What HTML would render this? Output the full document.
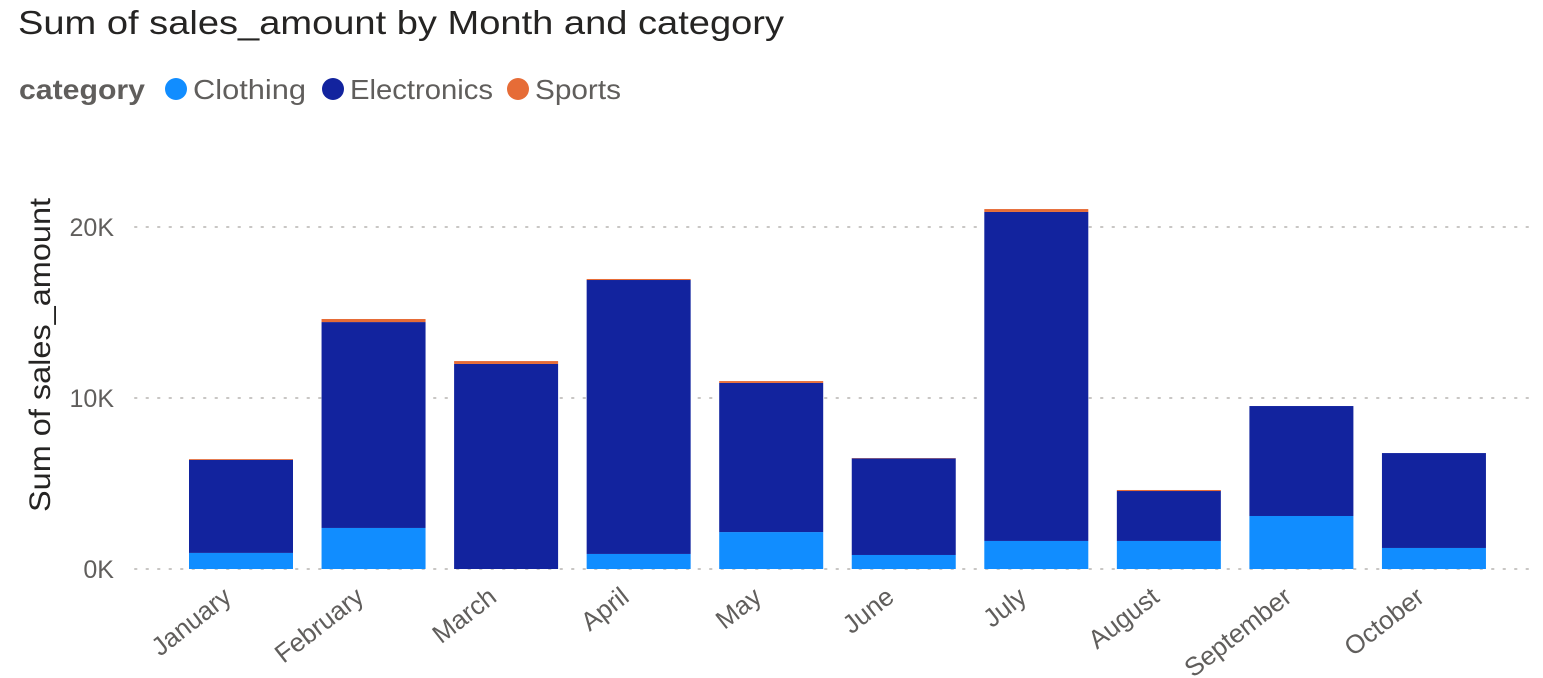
<!DOCTYPE html>
<html><head><meta charset="utf-8"><style>
body{margin:0;background:#fff;}
svg{display:block;font-family:"Liberation Sans",sans-serif;}
</style></head><body>
<svg id="chart" width="1543" height="678">
<text x="18" y="34" font-size="33" fill="#252423" textLength="766" lengthAdjust="spacingAndGlyphs">Sum of sales_amount by Month and category</text>
<g>
<text x="19" y="99" font-size="28" font-weight="bold" fill="#605e5c" textLength="126" lengthAdjust="spacingAndGlyphs">category</text>
<g><circle cx="176" cy="89" r="11" fill="#118dff"/><text x="193" y="99" font-size="28" fill="#605e5c" textLength="113" lengthAdjust="spacingAndGlyphs">Clothing</text></g>
<g><circle cx="333" cy="89" r="11" fill="#12239e"/><text x="350" y="99" font-size="28" fill="#605e5c" textLength="143" lengthAdjust="spacingAndGlyphs">Electronics</text></g>
<g><circle cx="518" cy="89" r="11" fill="#e66c37"/><text x="535" y="99" font-size="28" fill="#605e5c" textLength="86" lengthAdjust="spacingAndGlyphs">Sports</text></g>
</g>
<text transform="translate(50,355) rotate(-90)" text-anchor="middle" font-size="30" fill="#252423" textLength="314" lengthAdjust="spacingAndGlyphs">Sum of sales_amount</text>
<g id="grid"></g><g id="bars"></g><g id="xlabels"></g>
</svg>
<script>
const months=["January","February","March","April","May","June","July","August","September","October"];
const clothing=[940,2400,0,880,2160,820,1640,1640,3100,1230];
const electronics=[5440,12040,11990,16020,8720,5650,19240,2920,6430,5550];
const sports=[50,180,170,60,110,20,170,60,0,0];
const yTicks=[0,10000,20000];
const yTickLabels=["0K","10K","20K"];
const NS="http://www.w3.org/2000/svg";
const y0=569, pxPer=171/10000, x0=189, step=132.55, bw=104;
const Y=v=>y0-v*pxPer;
const X=i=>x0+i*step;
function mk(t,a,p){const e=document.createElementNS(NS,t);for(const k in a)e.setAttribute(k,a[k]);p.appendChild(e);return e;}
const grid=document.getElementById('grid'),bars=document.getElementById('bars'),xl=document.getElementById('xlabels');
yTicks.forEach((v,i)=>{
 const l=mk('line',{x1:135,x2:1535,y1:Y(v),y2:Y(v),stroke:'#c8c6c4','stroke-width':2,'stroke-dasharray':'1.5 10','stroke-linecap':'round'},grid);
 
 
 const t=mk('text',{x:114,y:Y(v)+9,'text-anchor':'end','font-size':25,fill:'#605e5c'},grid);
 t.textContent=yTickLabels[i];
 
 
});
months.forEach((m,i)=>{
 const x=X(i);let base=0;
 [[clothing[i],'#118dff','clothing'],[electronics[i],'#12239e','electronics'],[sports[i],'#e66c37','sports']].forEach(([v,c,n])=>{
  if(v<=0)return;
  const r=mk('rect',{x:x,y:Y(base+v),width:bw,height:v*pxPer,fill:c},bars);
  
  
  base+=v;
 });
 const cx=x+bw/2-8;
 const t=mk('text',{x:0,y:0,'text-anchor':'end','font-size':26,fill:'#605e5c',transform:`translate(${cx},${600}) rotate(-38)`},xl);
 t.textContent=m;
 
 
});
</script>
</body></html>
